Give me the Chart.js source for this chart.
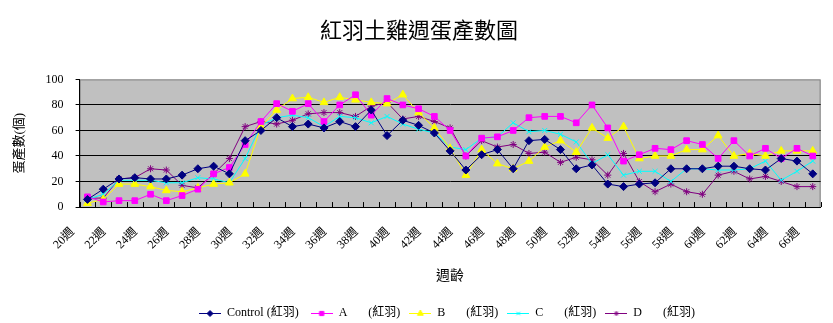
<!DOCTYPE html>
<html>
<head>
<meta charset="utf-8">
<script src="https://cdn.jsdelivr.net/npm/chart.js@4/dist/chart.umd.min.js"></script>
<style>
  html, body { margin: 0; padding: 0; background: #fff; }
  #wrap { width: 833px; height: 323px; }
</style>
</head>
<body>
<div id="wrap"><canvas id="egg-chart" width="833" height="323"></canvas></div>
<script>
// weeks 20..66
const weeks = [];
for (let w = 20; w <= 66; w++) weeks.push(w + "週");

const control = [6, 14, 22, 23, 22, 22, 25, 30, 32, 26, 52, 60, 70, 63, 65, 62, 67, 63, 76, 56, 68, 64, 58, 44, 29, 41, 45, 30, 52, 53, 45, 30, 33, 18, 16, 18, 19, 30, 30, 30, 32, 32, 30, 29, 38, 36, 26];
const groupA = [8, 4, 5, 5, 10, 5, 9, 14, 26, 31, 49, 67, 81, 75, 81, 67, 80, 88, 72, 85, 80, 77, 71, 60, 40, 54, 55, 60, 70, 71, 71, 66, 80, 62, 36, 41, 46, 45, 52, 49, 38, 52, 40, 46, 38, 46, 40];
const groupB = [3, 6, 18, 18, 16, 13, 12, 15, 18, 19, 26, 63, 76, 85, 86, 82, 86, 84, 82, 81, 88, 74, 62, 46, 25, 45, 34, 30, 36, 47, 52, 43, 62, 54, 63, 38, 40, 40, 45, 45, 56, 40, 42, 40, 44, 44, 44];
const groupC = [6, 10, 21, 21, 21, 19, 19, 23, 22, 19, 38, 64, 70, 72, 70, 63, 71, 70, 66, 71, 65, 61, 58, 47, 45, 54, 55, 66, 59, 60, 57, 51, 34, 41, 25, 28, 28, 20, 30, 30, 29, 29, 30, 36, 21, 28, 36];
const groupD = [7, 7, 22, 23, 30, 29, 17, 15, 26, 38, 63, 67, 65, 68, 73, 74, 74, 71, 79, 82, 69, 71, 67, 62, 40, 52, 47, 49, 42, 43, 35, 39, 37, 25, 42, 20, 12, 18, 12, 10, 25, 28, 22, 24, 20, 16, 16];

const yTicks = [0, 20, 40, 60, 80, 100];

const FONT = "'Liberation Serif', 'Noto Sans CJK TC', serif";

// line + marker picture for the legend, like excel does it
function legendMarker(color, style, radius) {
    const c = document.createElement("canvas");
    c.width = 22;
    c.height = 10;
    const ctx = c.getContext("2d");
    ctx.strokeStyle = color;
    ctx.fillStyle = color;
    ctx.lineWidth = 1;
    ctx.beginPath();
    ctx.moveTo(0, 5.5);
    ctx.lineTo(22, 5.5);
    ctx.stroke();
    Chart.helpers.drawPoint(ctx, { pointStyle: style, radius: radius, borderWidth: 1 }, 11, 5.5);
    return c;
}

function series(label, data, color, style, radius) {
    return {
        label: label,
        data: data,
        borderColor: color,
        backgroundColor: color,
        borderWidth: 1,
        pointStyle: style,
        pointRadius: radius,
        pointBorderWidth: 1,
        tension: 0,
        legendImage: legendMarker(color, style, radius - 1)
    };
}

// gray plot area, gray frame, small ticks pointing into the plot
const plotArea = {
    id: "plotArea",
    afterLayout: function(chart) {
        // legend sits a bit right of centre in the original
        chart.legend.left += 28;
        chart.legend.right += 28;
    },
    beforeDraw: function(chart) {
        const a = chart.chartArea;
        const ctx = chart.ctx;
        ctx.save();
        ctx.fillStyle = "#c0c0c0";
        ctx.fillRect(a.left, a.top, a.right - a.left, a.bottom - a.top);
        ctx.strokeStyle = "#808080";
        ctx.lineWidth = 1;
        ctx.strokeRect(a.left + 0.5, a.top + 0.5, a.right - a.left - 1, a.bottom - a.top);
        ctx.restore();
    },
    afterDatasetsDraw: function(chart) {
        const a = chart.chartArea;
        const ctx = chart.ctx;
        const step = (a.right - a.left) / weeks.length;
        ctx.save();
        ctx.strokeStyle = "#000";
        ctx.lineWidth = 1;
        ctx.beginPath();
        for (let i = 0; i <= weeks.length; i++) {
            const px = Math.round(a.left + step * i) + 0.5;
            ctx.moveTo(px, a.bottom);
            ctx.lineTo(px, a.bottom - 5);
        }
        ctx.stroke();
        ctx.restore();
    }
};

new Chart(document.getElementById("egg-chart"), {
    type: "line",
    data: {
        labels: weeks,
        datasets: [
            series("Control (紅羽)   ", control, "#000080", "rectRot", 4),
            series("A       (紅羽)  ", groupA, "#ff00ff", "rect", 4),
            series("B       (紅羽)  ", groupB, "#ffff00", "triangle", 4.5),
            series("C       (紅羽)  ", groupC, "#00ffff", "crossRot", 3.5),
            series("D       (紅羽)", groupD, "#800080", "star", 3.5)
        ]
    },
    options: {
        responsive: false,
        animation: false,
        layout: { padding: { left: 12, right: 7, top: 0, bottom: -6 } },
        plugins: {
            title: {
                display: true,
                text: "紅羽土雞週蛋產數圖",
                color: "#000",
                font: { family: FONT, size: 22, weight: "normal" },
                padding: { top: 19, bottom: 34 }
            },
            legend: {
                position: "bottom",
                labels: {
                    color: "#000",
                    font: { family: FONT, size: 12 },
                    usePointStyle: true,
                    pointStyleWidth: 22,
                    padding: 3,
                    generateLabels: function(chart) {
                        return chart.data.datasets.map(function(ds, i) {
                            return {
                                text: ds.label,
                                pointStyle: ds.legendImage,
                                fillStyle: ds.borderColor,
                                strokeStyle: ds.borderColor,
                                lineWidth: 0,
                                datasetIndex: i,
                                hidden: false
                            };
                        });
                    }
                }
            },
            tooltip: { enabled: false }
        },
        scales: {
            x: {
                offset: true,
                grid: { display: false },
                border: { color: "#000", width: 1 },
                ticks: {
                    color: "#000",
                    font: { family: FONT, size: 12 },
                    autoSkip: false,
                    minRotation: 45,
                    maxRotation: 45,
                    padding: 10,
                    labelOffset: -15,
                    callback: function(v, i) { return i % 2 === 0 ? weeks[i] : ""; }
                },
                title: {
                    display: true,
                    text: "週齡",
                    color: "#000",
                    font: { family: FONT, size: 14 },
                    padding: { top: 6, bottom: 19 }
                }
            },
            y: {
                min: 0,
                max: 100,
                afterBuildTicks: function(axis) {
                    axis.ticks = yTicks.map(function(v) { return { value: v }; });
                },
                grid: {
                    color: function(c) { return (c.tick.value === 0 || c.tick.value === 100) ? "rgba(0,0,0,0)" : "#000"; },
                    tickColor: "#000",
                    tickLength: 4
                },
                border: { color: "#000", width: 1 },
                ticks: {
                    color: "#000",
                    font: { family: FONT, size: 12 },
                    padding: 12
                },
                title: {
                    display: true,
                    text: "蛋產數(個)",
                    color: "#000",
                    font: { family: FONT, size: 13 },
                    padding: { top: 0, bottom: 6 }
                }
            }
        }
    },
    plugins: [plotArea]
});
</script>
</body>
</html>
